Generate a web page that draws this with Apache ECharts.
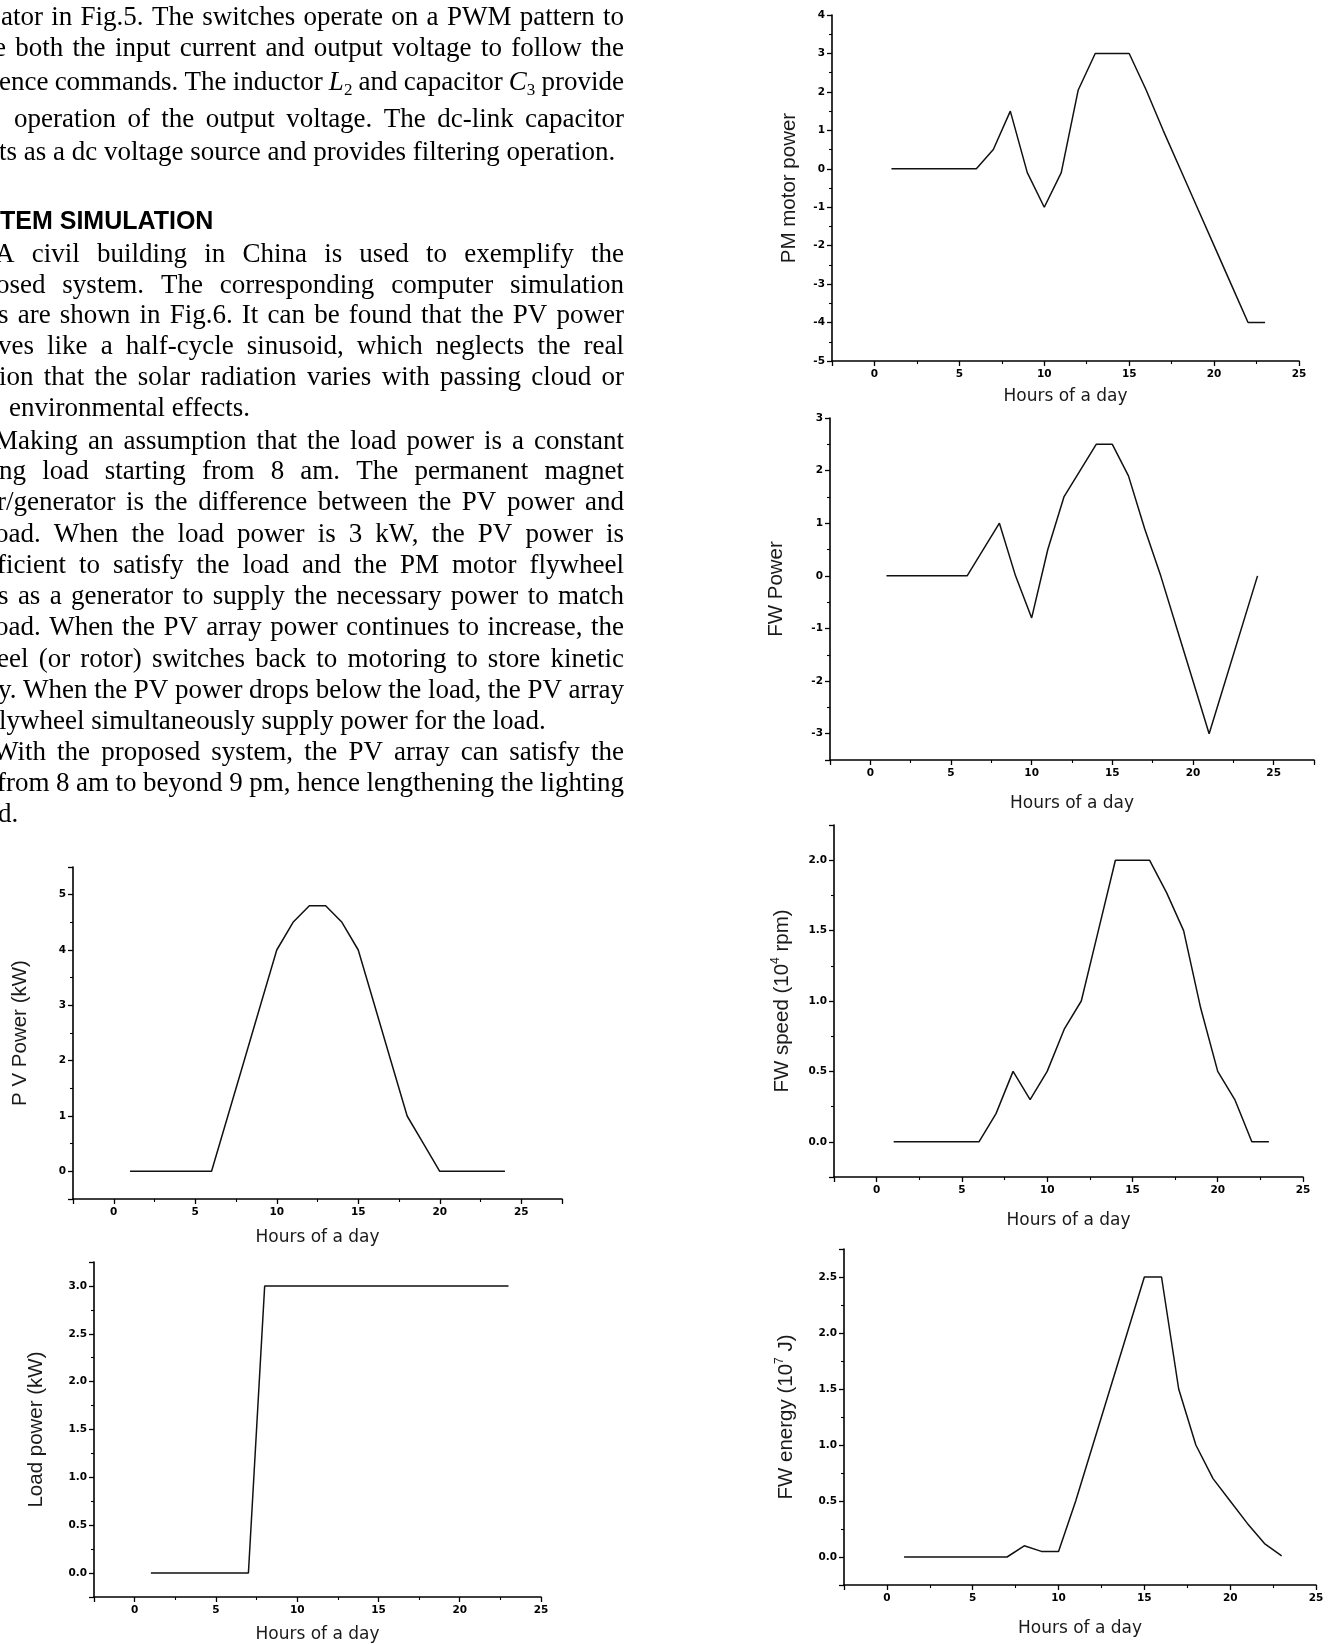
<!DOCTYPE html>
<html><head><meta charset="utf-8">
<script src="https://cdn.jsdelivr.net/npm/echarts@6/dist/echarts.min.js"></script>
<style>html,body{margin:0;padding:0;background:#fff}#c{width:1330px;height:1644px}</style>
</head><body><div id="c"></div>
<script>
// ---------- data ----------
const pvHours   = [1,6,7,8,9,10,11,12,13,14,15,16,17,18,19,20,24];
const pvPower   = [0,0,1,2,3,4,4.5,4.8,4.8,4.5,4,3,2,1,0.5,0,0];
const loadHours = [1,7,8,23];
const loadPower = [0,0,3,3];
const pmHours   = [1,6,7,8,9,10,11,12,13,15,16,17,18,19,20,21,22,23];
const pmPower   = [0,0,0.5,1.5,-0.1,-1,-0.1,2.05,3,3,2.05,1,0,-1,-2,-3,-4,-4];
const fwpHours  = [1,6,8,9,10,11,12,13,14,15,16,17,18,19,20,21,24];
const fwpPower  = [0,0,1,0,-0.8,0.5,1.5,2,2.5,2.5,1.9,0.9,0,-1,-2,-3,0];
const fwsHours  = [1,6,7,8,9,10,11,12,13,14,16,17,18,19,20,21,22,23];
const fwsSpeed  = [0,0,0.2,0.5,0.3,0.5,0.8,1,1.5,2,2,1.77,1.5,0.95,0.5,0.3,0,0];
const fweHours  = [1,7,8,9,10,11,12,13,14,15,16,17,18,19,20,21,22,23];
const fweEnergy = [0,0,0.1,0.05,0.05,0.5,1,1.5,2,2.5,2.5,1.5,1,0.7,0.5,0.3,0.12,0.01];
const xTitle = 'Hours of a day';
const yTitles = ['P V Power (kW)', 'Load power (kW)', 'PM motor power', 'FW Power',
  '{n|FW speed (10}{s|4}{n| rpm)}', '{n|FW energy (10}{s|7}{n| J)}'];
const xStepLabel = 5;

const paraLines = [
 'ator in Fig.5. The switches operate on a PWM pattern to',
 'e both the input current and output voltage to follow the',
 'ence commands. The inductor L2 and capacitor C3 provide',
 'operation of the output voltage. The dc-link capacitor',
 'ts as a dc voltage source and provides filtering operation.',
 'TEM SIMULATION',
 'A civil building in China is used to exemplify the',
 'osed system. The corresponding computer simulation',
 's are shown in Fig.6. It can be found that the PV power',
 'ves like a half-cycle sinusoid, which neglects the real',
 'ion that the solar radiation varies with passing cloud or',
 'environmental effects.',
 'Making an assumption that the load power is a constant',
 'ng load starting from 8 am. The permanent magnet',
 'r/generator is the difference between the PV power and',
 'oad. When the load power is 3 kW, the PV power is',
 'ficient to satisfy the load and the PM motor flywheel',
 's as a generator to supply the necessary power to match',
 'oad. When the PV array power continues to increase, the',
 'eel (or rotor) switches back to motoring to store kinetic',
 'y. When the PV power drops below the load, the PV array',
 'lywheel simultaneously supply power for the load.',
 'With the proposed system, the PV array can satisfy the',
 'from 8 am to beyond 9 pm, hence lengthening the lighting',
 'd.'
];

// ---------- layout ----------
const lineX = [1,-6,-1,14,-1,0,-5,-4,-2,-2,-1,9,-6,-1,-3,-5,-3,-2,-5,-3,-2,-1,-7,-3,-2];
const lineY = [18,49,83,120,153,222,255,286,316,347,378,409,442,472,503,535,566,597,628,660,691,722,753,784,815];
const lineJust = [1,1,1,1,0,0,1,1,1,1,1,0,1,1,1,1,1,1,1,1,1,0,1,1,0];
const textRight = 624;
const SERIF = '27px "Liberation Serif"';
const SERIF_I = 'italic 27px "Liberation Serif"';
const SERIF_SUB = '17px "Liberation Serif"';
const HEAD = 'bold 25px "Liberation Sans"';

const layouts = [
  {left:73,  top:867,  width:489, height:332, xMin:-2.5, xMax:27.5, yMin:-0.5, yMax:5.5,  yStep:1,   dec:0, xGap:30, yGap:42},
  {left:94,  top:1262, width:447, height:337, xMin:-2.5, xMax:25,   yMin:-0.25,yMax:3.25, yStep:0.5, dec:1, xGap:29, yGap:47},
  {left:832, top:15,   width:467, height:346, xMin:-2.5, xMax:25,   yMin:-5,   yMax:4,    yStep:1,   dec:0, xGap:27, yGap:32},
  {left:830, top:418,  width:484, height:342, xMin:-2.5, xMax:27.5, yMin:-3.5, yMax:3,    yStep:1,   dec:0, xGap:35, yGap:43},
  {left:834, top:825,  width:469, height:352, xMin:-2.5, xMax:25,   yMin:-0.25,yMax:2.25, yStep:0.5, dec:1, xGap:35, yGap:40},
  {left:844, top:1249, width:472, height:336, xMin:-2.5, xMax:25,   yMin:-0.25,yMax:2.75, yStep:0.5, dec:1, xGap:35, yGap:46}
];
const seriesData = [[pvHours,pvPower],[loadHours,loadPower],[pmHours,pmPower],[fwpHours,fwpPower],[fwsHours,fwsSpeed],[fweHours,fweEnergy]];

const isMult = (v, s) => Math.abs(v / s - Math.round(v / s)) < 1e-6;
const tickFont = {fontFamily:'DejaVu Sans', fontWeight:'bold', fontSize:10.5, color:'#000'};
const axisLineStyle = {color:'#000', width:1.6};

const grids = [], xAxes = [], yAxes = [], series = [];
layouts.forEach((L, i) => {
  grids.push({left:L.left, top:L.top, width:L.width, height:L.height, containLabel:false});
  xAxes.push({
    type:'value', gridIndex:i, min:L.xMin, max:L.xMax, minInterval:xStepLabel, maxInterval:xStepLabel,
    name:xTitle, nameLocation:'middle', nameGap:L.xGap,
    nameTextStyle:{fontFamily:'DejaVu Sans', fontSize:17, color:'#1a1a1a'},
    axisLine:{show:true, onZero:false, lineStyle:axisLineStyle},
    axisTick:{show:true, inside:false, length:5, lineStyle:{color:'#000', width:1.3}},
    minorTick:{show:true, splitNumber:2, length:3, lineStyle:{color:'#000', width:1.1}},
    splitLine:{show:false}, minorSplitLine:{show:false},
    axisLabel:Object.assign({margin:8, showMinLabel:true, showMaxLabel:true,
      formatter:v => isMult(v, xStepLabel) ? String(v) : ''}, tickFont)
  });
  yAxes.push({
    type:'value', gridIndex:i, min:L.yMin, max:L.yMax, minInterval:L.yStep, maxInterval:L.yStep,
    name:yTitles[i], nameLocation:'middle', nameGap:L.yGap,
    nameTextStyle:{fontFamily:'Liberation Sans', fontSize:20.5, color:'#1a1a1a',
      rich:{n:{fontFamily:'Liberation Sans', fontSize:20.5, color:'#1a1a1a', lineHeight:24},
            s:{fontFamily:'Liberation Sans', fontSize:12, color:'#1a1a1a', verticalAlign:'top', lineHeight:24}}},
    axisLine:{show:true, onZero:false, lineStyle:axisLineStyle},
    axisTick:{show:true, inside:false, length:5, lineStyle:{color:'#000', width:1.3}},
    minorTick:{show:true, splitNumber:2, length:3, lineStyle:{color:'#000', width:1.1}},
    splitLine:{show:false}, minorSplitLine:{show:false},
    axisLabel:Object.assign({margin:7, showMinLabel:true, showMaxLabel:true,
      formatter:v => isMult(v, L.yStep) ? (L.dec ? v.toFixed(1) : String(Math.round(v))) : ''}, tickFont)
  });
  const [hx, vy] = seriesData[i];
  series.push({
    type:'line', xAxisIndex:i, yAxisIndex:i, data:hx.map((h, k) => [h, vy[k]]),
    showSymbol:false, symbol:'none', silent:true,
    lineStyle:{color:'#111', width:1.5}
  });
});

// ---------- paragraph text (justified lines) ----------
const mctx = document.createElement('canvas').getContext('2d');
function mw(font, t){ mctx.font = font; return mctx.measureText(t).width; }
const subWords = {'L2':1, 'C3':1};
function wordW(w){ return subWords[w] ? mw(SERIF_I, w[0]) + mw(SERIF_SUB, w[1]) : mw(SERIF, w); }
const gfx = [];
paraLines.forEach((line, i) => {
  const x0 = lineX[i], y = lineY[i];
  if (i === 5) {
    gfx.push({type:'text', x:x0, y:y, silent:true, style:{text:line, font:HEAD, fill:'#000', verticalAlign:'middle'}});
    return;
  }
  const words = line.split(' ').filter(w => w.length);
  const widths = words.map(wordW);
  const total = widths.reduce((a, b) => a + b, 0);
  let gap = (lineJust[i] && words.length > 1) ? (textRight - x0 - total) / (words.length - 1) : mw(SERIF, ' ');
  if (gap < 2) gap = 2;
  let x = x0;
  words.forEach((w, k) => {
    if (subWords[w]) {
      const wl = mw(SERIF_I, w[0]);
      gfx.push({type:'text', x:x, y:y, silent:true, style:{text:w[0], font:SERIF_I, fill:'#000', verticalAlign:'middle'}});
      gfx.push({type:'text', x:x + wl, y:y + 8, silent:true, style:{text:w[1], font:SERIF_SUB, fill:'#000', verticalAlign:'middle'}});
    } else {
      gfx.push({type:'text', x:x, y:y, silent:true, style:{text:w, font:SERIF, fill:'#000', verticalAlign:'middle'}});
    }
    x += widths[k] + gap;
  });
});

const chart = echarts.init(document.getElementById('c'), null, {width:1330, height:1644});
chart.setOption({
  backgroundColor:'#fff',
  animation:false,
  grid:grids, xAxis:xAxes, yAxis:yAxes, series:series,
  graphic:{elements:gfx}
});
</script></body></html>
